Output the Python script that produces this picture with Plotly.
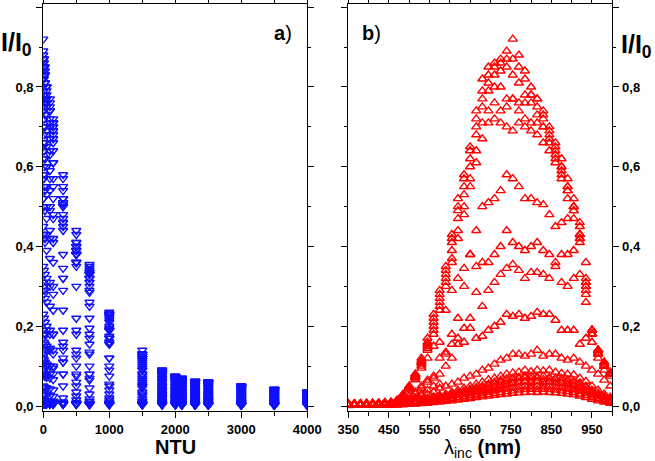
import plotly.graph_objects as go
from plotly.subplots import make_subplots

# Wavelength grid (nm)
wavelengths = [350, 365, 380, 395, 410, 425, 440, 455, 470, 485, 500, 515, 530, 545, 560, 575,
               590, 605, 620, 635, 650, 665, 680, 695, 710, 725, 740, 755, 770, 785, 800, 815,
               830, 845, 860, 875, 890, 905, 920, 935, 950, 965, 980, 995]

# Turbidity values (NTU)
ntu_values = [0, 10, 25, 50, 100, 150, 300, 500, 700, 1000, 1500, 1800, 2000, 2100, 2300, 2500, 3000, 3500, 4000]

# I/I0 spectra, one per NTU value
ratio_ntu_0 = [0.006, 0.005, 0.006, 0.007, 0.006, 0.008, 0.009, 0.010,
               0.015, 0.03, 0.05, 0.08, 0.12, 0.17, 0.23, 0.29, 0.35, 0.43, 0.52, 0.58, 0.65, 0.74, 0.82, 0.85,
               0.86, 0.87, 0.89, 0.92, 0.88, 0.84, 0.80, 0.77, 0.74, 0.70, 0.66, 0.62, 0.57, 0.52, 0.45, 0.31,
               0.19, 0.14, 0.11, 0.085]
ratio_ntu_10 = [0.005, 0.006, 0.005, 0.006, 0.007, 0.007, 0.008, 0.009,
                0.014, 0.028, 0.048, 0.076, 0.115, 0.16, 0.22, 0.28, 0.34, 0.42, 0.50, 0.57, 0.64, 0.72, 0.79, 0.83,
                0.85, 0.86, 0.87, 0.87, 0.85, 0.82, 0.78, 0.75, 0.72, 0.68, 0.64, 0.60, 0.55, 0.50, 0.43, 0.30,
                0.18, 0.135, 0.105, 0.08]
ratio_ntu_25 = [0.006, 0.005, 0.005, 0.006, 0.006, 0.007, 0.008, 0.009,
                0.013, 0.027, 0.046, 0.074, 0.11, 0.155, 0.21, 0.27, 0.33, 0.41, 0.49, 0.55, 0.62, 0.70, 0.77, 0.81,
                0.83, 0.84, 0.85, 0.83, 0.81, 0.78, 0.76, 0.73, 0.70, 0.66, 0.62, 0.58, 0.54, 0.49, 0.42, 0.29,
                0.18, 0.13, 0.10, 0.08]
ratio_ntu_50 = [0.005, 0.005, 0.006, 0.006, 0.006, 0.007, 0.008, 0.008,
                0.013, 0.026, 0.045, 0.072, 0.105, 0.15, 0.20, 0.26, 0.32, 0.39, 0.47, 0.53, 0.60, 0.68, 0.75, 0.79,
                0.80, 0.80, 0.77, 0.77, 0.76, 0.76, 0.78, 0.77, 0.73, 0.69, 0.65, 0.60, 0.55, 0.50, 0.43, 0.31,
                0.19, 0.14, 0.10, 0.08]
ratio_ntu_100 = [0.005, 0.005, 0.005, 0.006, 0.006, 0.006, 0.007, 0.008,
                 0.012, 0.025, 0.043, 0.07, 0.10, 0.145, 0.19, 0.25, 0.31, 0.37, 0.44, 0.50, 0.57, 0.64, 0.71, 0.74,
                 0.76, 0.74, 0.75, 0.77, 0.74, 0.72, 0.71, 0.71, 0.70, 0.67, 0.63, 0.59, 0.54, 0.49, 0.42, 0.30,
                 0.18, 0.14, 0.10, 0.08]
ratio_ntu_150 = [0.004, 0.005, 0.005, 0.005, 0.006, 0.006, 0.007, 0.008,
                 0.012, 0.024, 0.04, 0.066, 0.095, 0.14, 0.18, 0.24, 0.30, 0.36, 0.42, 0.48, 0.55, 0.61, 0.67, 0.71,
                 0.72, 0.71, 0.70, 0.69, 0.71, 0.70, 0.69, 0.68, 0.66, 0.64, 0.61, 0.57, 0.52, 0.47, 0.41, 0.28,
                 0.18, 0.13, 0.10, 0.08]
ratio_ntu_300 = [0.004, 0.004, 0.005, 0.005, 0.005, 0.006, 0.006, 0.007,
                 0.01, 0.02, 0.05, 0.08, 0.11, 0.12, 0.15, 0.16, 0.24, 0.29, 0.32, 0.345, 0.38, 0.44, 0.50, 0.51,
                 0.52, 0.54, 0.58, 0.57, 0.55, 0.52, 0.52, 0.51, 0.505, 0.48, 0.45, 0.46, 0.47, 0.50, 0.46, 0.32,
                 0.19, 0.14, 0.11, 0.08]
ratio_ntu_500 = [0.004, 0.004, 0.004, 0.005, 0.005, 0.005, 0.006, 0.006,
                 0.008, 0.015, 0.025, 0.035, 0.05, 0.06, 0.075, 0.12, 0.13, 0.18, 0.22, 0.30, 0.38, 0.35, 0.36, 0.36,
                 0.38, 0.40, 0.44, 0.41, 0.40, 0.39, 0.40, 0.41, 0.39, 0.38, 0.36, 0.38, 0.38, 0.39, 0.43, 0.36,
                 0.19, 0.14, 0.10, 0.08]
ratio_ntu_700 = [0.003, 0.004, 0.004, 0.004, 0.005, 0.005, 0.005, 0.006,
                 0.007, 0.012, 0.018, 0.03, 0.045, 0.065, 0.07, 0.08, 0.135, 0.155, 0.17, 0.195, 0.22, 0.285, 0.25, 0.29,
                 0.31, 0.33, 0.345, 0.355, 0.34, 0.32, 0.335, 0.335, 0.33, 0.32, 0.35, 0.31, 0.30, 0.32, 0.33, 0.26,
                 0.18, 0.13, 0.10, 0.08]
ratio_ntu_1000 = [0.003, 0.003, 0.004, 0.004, 0.004, 0.005, 0.005, 0.005,
                  0.006, 0.01, 0.015, 0.02, 0.03, 0.04, 0.05, 0.055, 0.10, 0.12, 0.155, 0.16, 0.195, 0.17, 0.175, 0.19,
                  0.20, 0.21, 0.23, 0.225, 0.23, 0.22, 0.225, 0.235, 0.23, 0.23, 0.215, 0.19, 0.19, 0.19, 0.155, 0.17,
                  0.16, 0.12, 0.09, 0.075]
ratio_ntu_1500 = [0.003, 0.003, 0.003, 0.004, 0.004, 0.004, 0.005, 0.005,
                  0.006, 0.008, 0.012, 0.018, 0.025, 0.03, 0.035, 0.045, 0.05, 0.055, 0.06, 0.07, 0.075, 0.08, 0.09, 0.095,
                  0.105, 0.115, 0.12, 0.13, 0.13, 0.125, 0.13, 0.14, 0.125, 0.13, 0.13, 0.12, 0.115, 0.12, 0.11, 0.10,
                  0.09, 0.08, 0.065, 0.05]
ratio_ntu_1800 = [0.003, 0.003, 0.003, 0.003, 0.004, 0.004, 0.004, 0.005,
                  0.006, 0.008, 0.01, 0.013, 0.016, 0.02, 0.023, 0.027, 0.03, 0.035, 0.04, 0.045, 0.05, 0.055, 0.06, 0.066,
                  0.07, 0.075, 0.08, 0.083, 0.085, 0.09, 0.086, 0.09, 0.088, 0.09, 0.085, 0.082, 0.08, 0.078, 0.07, 0.062,
                  0.05, 0.04, 0.03, 0.022]
ratio_ntu_2000 = [0.003, 0.003, 0.003, 0.003, 0.003, 0.004, 0.004, 0.004,
                  0.005, 0.007, 0.009, 0.011, 0.014, 0.017, 0.02, 0.023, 0.026, 0.03, 0.034, 0.038, 0.042, 0.046, 0.05, 0.055,
                  0.06, 0.064, 0.068, 0.07, 0.072, 0.074, 0.075, 0.073, 0.075, 0.072, 0.07, 0.069, 0.066, 0.063, 0.058, 0.05,
                  0.04, 0.032, 0.024, 0.018]
ratio_ntu_2100 = [0.002, 0.003, 0.003, 0.003, 0.003, 0.003, 0.004, 0.004,
                  0.005, 0.006, 0.008, 0.01, 0.013, 0.015, 0.018, 0.021, 0.024, 0.028, 0.031, 0.035, 0.039, 0.043, 0.047, 0.051,
                  0.055, 0.059, 0.062, 0.065, 0.068, 0.07, 0.068, 0.07, 0.067, 0.068, 0.066, 0.063, 0.061, 0.058, 0.053, 0.046,
                  0.036, 0.028, 0.021, 0.015]
ratio_ntu_2300 = [0.002, 0.002, 0.003, 0.003, 0.003, 0.003, 0.003, 0.004,
                  0.004, 0.005, 0.007, 0.009, 0.011, 0.013, 0.016, 0.018, 0.021, 0.024, 0.027, 0.03, 0.034, 0.037, 0.041, 0.045,
                  0.048, 0.052, 0.055, 0.058, 0.06, 0.062, 0.06, 0.062, 0.06, 0.061, 0.059, 0.057, 0.055, 0.052, 0.047, 0.04,
                  0.032, 0.025, 0.018, 0.013]
ratio_ntu_2500 = [0.002, 0.002, 0.002, 0.003, 0.003, 0.003, 0.003, 0.003,
                  0.004, 0.005, 0.006, 0.008, 0.01, 0.012, 0.015, 0.017, 0.02, 0.023, 0.026, 0.029, 0.032, 0.035, 0.039, 0.043,
                  0.046, 0.05, 0.053, 0.056, 0.058, 0.06, 0.059, 0.061, 0.059, 0.06, 0.058, 0.056, 0.053, 0.05, 0.045, 0.038,
                  0.03, 0.023, 0.017, 0.012]
ratio_ntu_3000 = [0.002, 0.002, 0.002, 0.002, 0.002, 0.003, 0.003, 0.003,
                  0.003, 0.004, 0.005, 0.007, 0.008, 0.01, 0.012, 0.014, 0.016, 0.019, 0.021, 0.024, 0.027, 0.029, 0.032, 0.035,
                  0.038, 0.041, 0.044, 0.046, 0.048, 0.05, 0.049, 0.05, 0.049, 0.05, 0.048, 0.046, 0.044, 0.041, 0.037, 0.031,
                  0.025, 0.019, 0.014, 0.01]
ratio_ntu_3500 = [0.002, 0.002, 0.002, 0.002, 0.002, 0.002, 0.002, 0.003,
                  0.003, 0.004, 0.005, 0.006, 0.007, 0.009, 0.01, 0.012, 0.014, 0.016, 0.018, 0.02, 0.022, 0.025, 0.027, 0.029,
                  0.032, 0.034, 0.036, 0.038, 0.04, 0.041, 0.042, 0.041, 0.042, 0.041, 0.04, 0.038, 0.036, 0.034, 0.03, 0.026,
                  0.021, 0.016, 0.012, 0.008]
ratio_ntu_4000 = [0.001, 0.002, 0.002, 0.002, 0.002, 0.002, 0.002, 0.002,
                  0.003, 0.003, 0.004, 0.005, 0.006, 0.007, 0.009, 0.01, 0.012, 0.013, 0.015, 0.017, 0.019, 0.021, 0.023, 0.025,
                  0.027, 0.029, 0.03, 0.032, 0.033, 0.034, 0.035, 0.034, 0.035, 0.034, 0.033, 0.032, 0.03, 0.028, 0.025, 0.021,
                  0.017, 0.013, 0.01, 0.007]

spectra = [ratio_ntu_0, ratio_ntu_10, ratio_ntu_25, ratio_ntu_50, ratio_ntu_100, ratio_ntu_150,
           ratio_ntu_300, ratio_ntu_500, ratio_ntu_700, ratio_ntu_1000, ratio_ntu_1500, ratio_ntu_1800,
           ratio_ntu_2000, ratio_ntu_2100, ratio_ntu_2300, ratio_ntu_2500, ratio_ntu_3000, ratio_ntu_3500,
           ratio_ntu_4000]

y_ticks = [0.0, 0.2, 0.4, 0.6, 0.8, 1.0]

left_x, left_y, right_x, right_y = [], [], [], []
for ntu, spec in zip(ntu_values, spectra):
    for wl, v in zip(wavelengths, spec):
        left_x.append(ntu)
        left_y.append(v)
        right_x.append(wl)
        right_y.append(v)

FONT = "Liberation Sans, Arial, sans-serif"
W, H = 655, 461

fig = make_subplots(rows=1, cols=2)

fig.add_trace(go.Scatter(
    x=left_x, y=left_y, mode="markers",
    marker=dict(symbol="triangle-down-open", size=8, color="#1010ff", line=dict(width=1.4, color="#1010ff")),
    showlegend=False), row=1, col=1)
fig.add_trace(go.Scatter(
    x=right_x, y=right_y, mode="markers",
    marker=dict(symbol="triangle-up-open", size=8, color="#ff0000", line=dict(width=1.4, color="#ff0000")),
    showlegend=False), row=1, col=2)

ydom = [(H - 411) / H, (H - 4) / H]
yrange = [-0.0125, 1.008]
tickfont = dict(family=FONT, size=13, color="black", weight="bold")
common_axis = dict(showline=True, linecolor="black", linewidth=1.3, mirror="ticks",
                   ticks="outside", ticklen=6, tickwidth=1.2, tickcolor="black",
                   showgrid=False, zeroline=False, tickfont=tickfont, automargin=False)

fig.update_xaxes(domain=[43.3 / W, 307.3 / W], range=[0, 4000], tick0=0, dtick=1000,
                 minor=dict(dtick=500, ticks="outside", ticklen=4, tickcolor="black"),
                 **common_axis, row=1, col=1)
fig.update_xaxes(domain=[348.3 / W, 612.3 / W], range=[350, 1000], tick0=350, dtick=100,
                 minor=dict(dtick=50, ticks="outside", ticklen=4, tickcolor="black"),
                 **common_axis, row=1, col=2)
fig.update_yaxes(domain=ydom, range=yrange, tickvals=y_ticks, tickformat=".1f",
                 minor=dict(dtick=0.1, ticks="outside", ticklen=3, tickcolor="black"),
                 **common_axis, row=1, col=1)
fig.update_yaxes(domain=ydom, range=yrange, tickvals=y_ticks, tickformat=".1f", side="right",
                 minor=dict(dtick=0.1, ticks="outside", ticklen=3, tickcolor="black"),
                 **common_axis, row=1, col=2)

ann_font = dict(family=FONT, color="black")
annotations = [
    dict(text="<b>I/I<sub>0</sub></b>", x=0 / W, y=1 - 44 / H, xanchor="left", yanchor="middle",
         font=dict(size=25, **ann_font)),
    dict(text="<b>I/I<sub>0</sub></b>", x=620 / W, y=1 - 46 / H, xanchor="left", yanchor="middle",
         font=dict(size=25, **ann_font)),
    dict(text="<b>a</b>)", x=283 / W, y=1 - 33 / H, xanchor="center", yanchor="middle",
         font=dict(size=20, **ann_font)),
    dict(text="<b>b</b>)", x=371 / W, y=1 - 33 / H, xanchor="center", yanchor="middle",
         font=dict(size=20, **ann_font)),
    dict(text="<b>NTU</b>", x=175 / W, y=1 - 447 / H, xanchor="center", yanchor="middle",
         font=dict(size=20, **ann_font)),
    dict(text="λ<sub>inc</sub> <b>(nm)</b>", x=482 / W, y=1 - 435 / H, xanchor="center", yanchor="top",
         font=dict(size=20, **ann_font)),
]
for a in annotations:
    a.update(xref="paper", yref="paper", showarrow=False, borderpad=0)

fig.update_layout(width=W, height=H, margin=dict(l=0, r=0, t=0, b=0),
                  paper_bgcolor="white", plot_bgcolor="white",
                  separators=", ", annotations=annotations, showlegend=False)

fig.write_html("out.html")
